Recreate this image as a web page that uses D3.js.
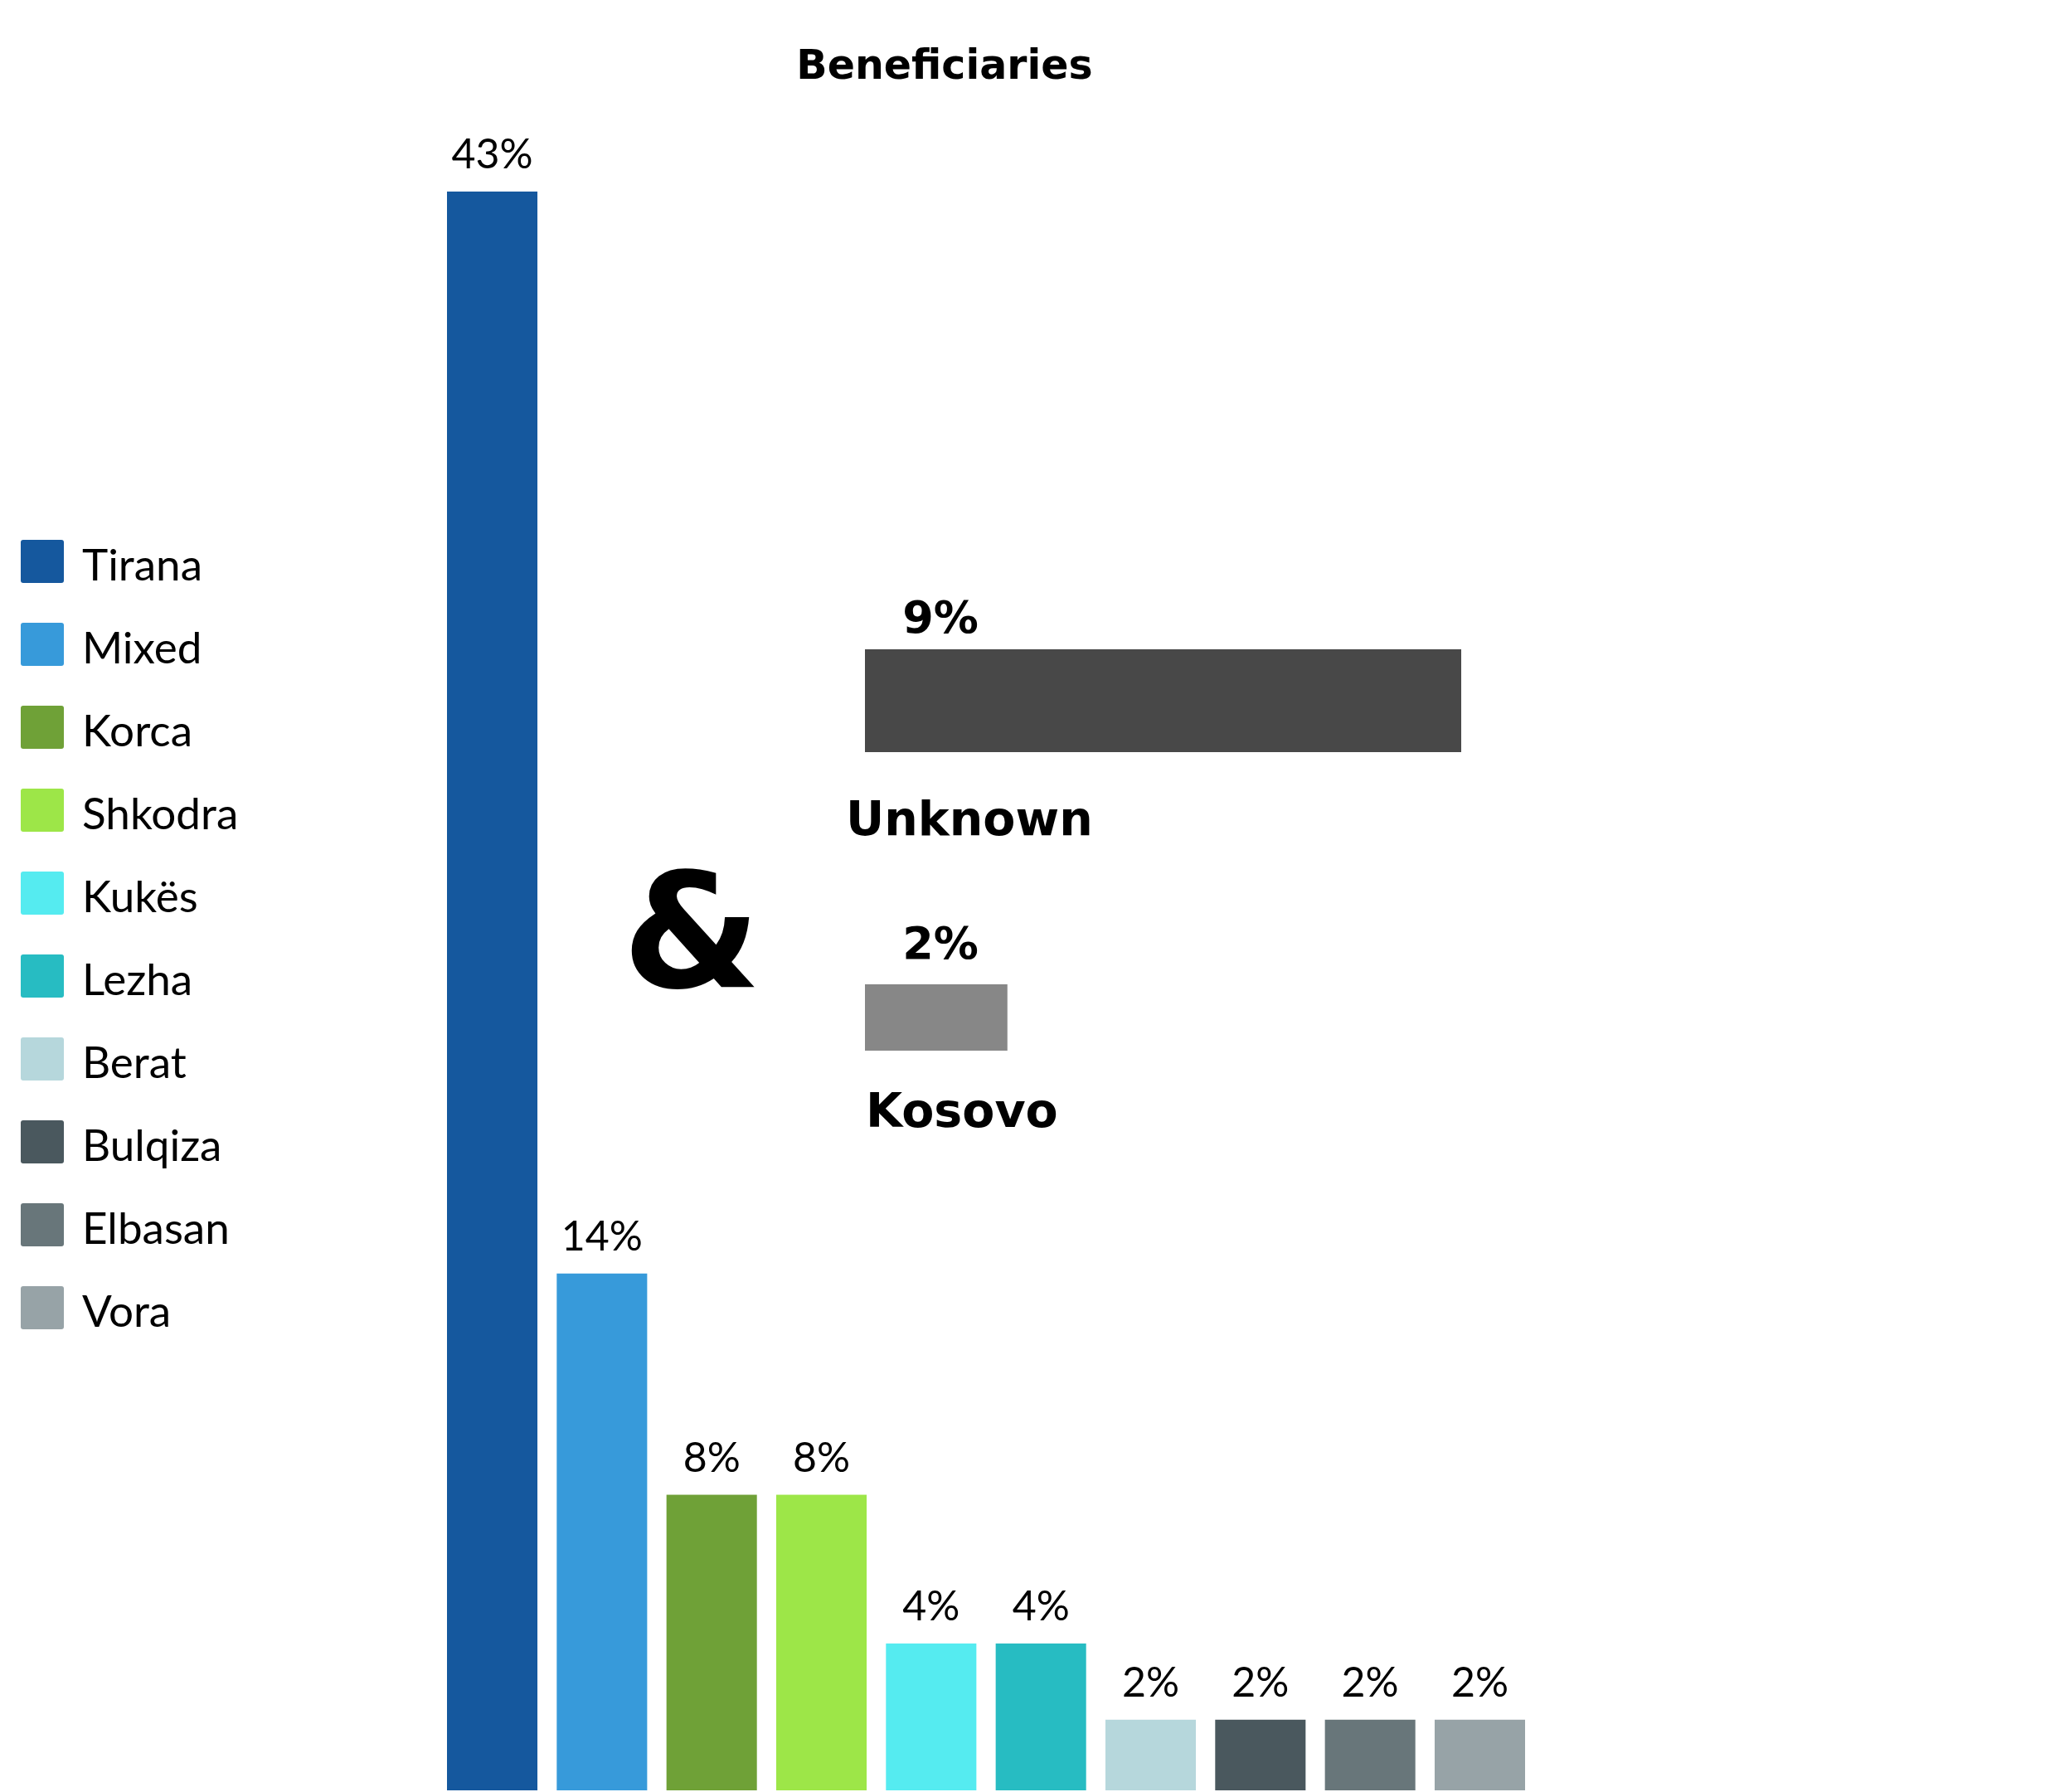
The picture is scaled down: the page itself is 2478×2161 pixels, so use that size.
<!DOCTYPE html>
<html>
<head>
<meta charset="utf-8">
<script src="https://cdn.jsdelivr.net/npm/d3@7"></script>
<style>
  body { margin: 0; background: #fff; }
  svg { display: block; }
</style>
</head>
<body>
<script>
// region shares (percent)
var regions = ['Tirana', 'Mixed', 'Korca', 'Shkodra', 'Kukës', 'Lezha', 'Berat', 'Bulqiza', 'Elbasan', 'Vora'];
var shares = [43, 13.9, 7.95, 7.95, 3.95, 3.95, 1.9, 1.9, 1.9, 1.9];
var regionColors = ['#15589e', '#379ada', '#6fa137', '#9de648', '#55ebf0', '#27bcc2', '#b6d7dc', '#4a585e', '#68767a', '#97a3a7'];

// the two side bars
var extras = ['Unknown', 'Kosovo'];
var extraShares = [9, 2.15];
var extraColors = ['#484848', '#878787'];

var width = 2478;
var height = 2161;
var boldFont = '"DejaVu Sans", sans-serif';
var bodyFont = 'Lato, sans-serif';
var fmt = function (v) { return d3.format('.0f')(v) + '%'; };

var svg = d3.select('body')
            .append('svg')
            .attr('width', width)
            .attr('height', height);

// title
svg.append('text')
   .attr('x', 1139)
   .attr('y', 95)
   .attr('text-anchor', 'middle')
   .style('font-family', boldFont)
   .style('font-weight', 'bold')
   .style('font-size', '49px')
   .text('Beneficiaries');

// vertical bars
var x = d3.scaleBand()
          .domain(regions)
          .range([539, 1839])
          .paddingInner(0.176)
          .paddingOuter(0);

var y = d3.scaleLinear()
          .domain([0, 43])
          .range([2159, 231]);

var data = regions.map(function (r, i) {
  return {name: r, value: shares[i], color: regionColors[i]};
});

svg.selectAll('.bar')
   .data(data)
   .enter()
   .append('rect')
     .attr('class', 'bar')
     .attr('x', function (d) { return x(d.name); })
     .attr('y', function (d) { return y(d.value); })
     .attr('width', x.bandwidth())
     .attr('height', function (d) { return y(0) - y(d.value); })
     .attr('fill', function (d) { return d.color; });

svg.selectAll('.barlabel')
   .data(data)
   .enter()
   .append('text')
     .attr('class', 'barlabel')
     .attr('x', function (d) { return x(d.name) + x.bandwidth() / 2; })
     .attr('y', function (d) { return y(d.value) - 28; })
     .attr('text-anchor', 'middle')
     .style('font-family', bodyFont)
     .style('font-size', '50px')
     .text(function (d) { return fmt(d.value); });

// legend
var legend = svg.selectAll('.legend')
                .data(data)
                .enter()
                .append('g')
                  .attr('class', 'legend')
                  .attr('transform', function (d, i) { return 'translate(25,' + (651 + i * 100) + ')'; });

legend.append('rect')
      .attr('width', 52)
      .attr('height', 52)
      .attr('rx', 3)
      .attr('fill', function (d) { return d.color; });

legend.append('text')
      .attr('x', 74)
      .attr('y', 49)
      .style('font-family', bodyFont)
      .style('font-size', '53px')
      .text(function (d) { return d.name; });

// ampersand
svg.append('text')
   .attr('x', 834)
   .attr('y', 1190)
   .attr('text-anchor', 'middle')
   .style('font-family', boldFont)
   .style('font-weight', 'bold')
   .style('font-size', '192px')
   .text('&');

// horizontal bars for Unknown and Kosovo
var hx = d3.scaleLinear()
           .domain([0, 9])
           .range([1043, 1762]);

var extraData = extras.map(function (e, i) {
  return {name: e, value: extraShares[i], color: extraColors[i]};
});
// bar top, bar height, label baseline, name baseline, name x
var extraPos = [
  {top: 783, h: 124, label: 763, nameY: 1007, nameX: 1020},
  {top: 1187, h: 80, label: 1156, nameY: 1359, nameX: 1044}
];

svg.selectAll('.hbar')
   .data(extraData)
   .enter()
   .append('rect')
     .attr('class', 'hbar')
     .attr('x', hx(0))
     .attr('y', function (d, i) { return extraPos[i].top; })
     .attr('width', function (d) { return hx(d.value) - hx(0); })
     .attr('height', function (d, i) { return extraPos[i].h; })
     .attr('fill', function (d) { return d.color; });

svg.selectAll('.hlabel')
   .data(extraData)
   .enter()
   .append('text')
     .attr('class', 'hlabel')
     .attr('x', 1134)
     .attr('y', function (d, i) { return extraPos[i].label; })
     .attr('text-anchor', 'middle')
     .style('font-family', boldFont)
     .style('font-weight', 'bold')
     .style('font-size', '54px')
     .text(function (d) { return fmt(d.value); });

svg.selectAll('.hname')
   .data(extraData)
   .enter()
   .append('text')
     .attr('class', 'hname')
     .attr('x', function (d, i) { return extraPos[i].nameX; })
     .attr('y', function (d, i) { return extraPos[i].nameY; })
     .style('font-family', boldFont)
     .style('font-weight', 'bold')
     .style('font-size', '57px')
     .text(function (d) { return d.name; });
</script>
</body>
</html>
